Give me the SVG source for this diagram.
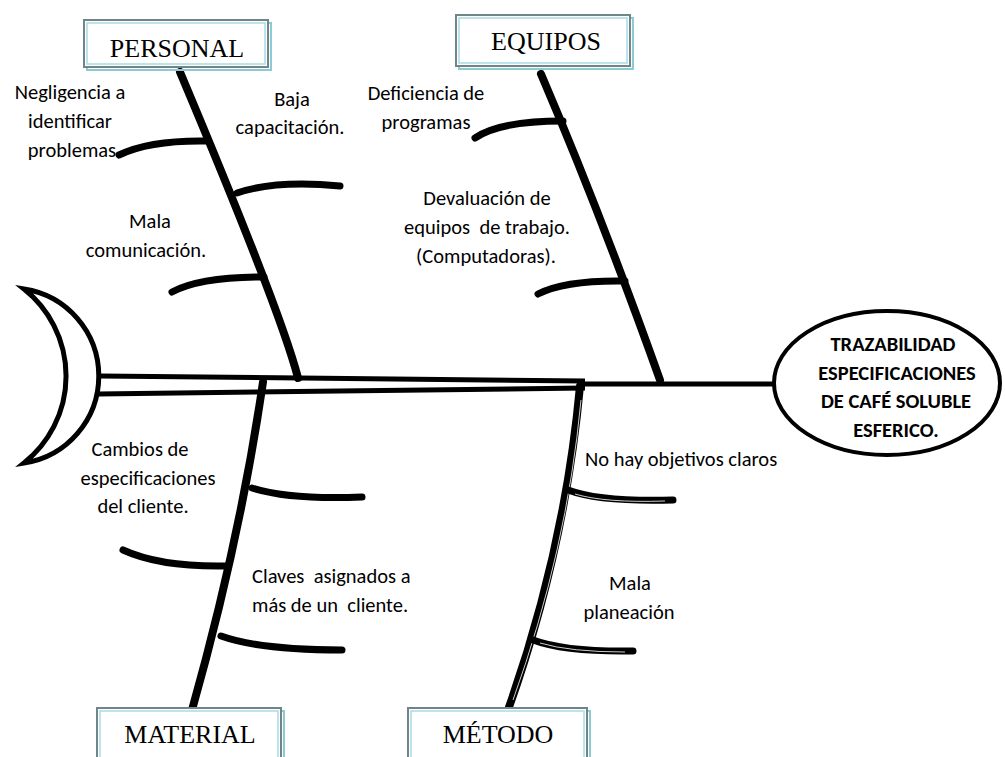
<svg xmlns="http://www.w3.org/2000/svg" width="1005" height="757" viewBox="0 0 1005 757">
<style>
.bg{fill:#fff}
.bone{fill:none;stroke:#000;stroke-width:8;stroke-linecap:round}
.rib{fill:none;stroke:#000;stroke-width:7;stroke-linecap:round}
.spine{fill:none;stroke:#000;stroke-width:5}
.hl{fill:none;stroke:#fff;stroke-width:0.8}
.boxsh{fill:none;stroke:#8ccbd3;stroke-width:2}
.box{fill:#fff;stroke:#6f8587;stroke-width:2}
.boxin{fill:none;stroke:#a6dce3;stroke-width:1.5}
.cat{font-family:"Liberation Serif","Times New Roman",serif;font-size:26px;fill:#000;text-anchor:middle}
.lbl{font-family:Carlito,"Liberation Sans",Arial,sans-serif;font-size:20.5px;fill:#000;text-anchor:middle}
.lbll{font-family:Carlito,"Liberation Sans",Arial,sans-serif;font-size:20.5px;fill:#000}
.eff{font-family:Carlito,"Liberation Sans",Arial,sans-serif;font-size:20.5px;font-weight:bold;fill:#000;text-anchor:middle}
</style>
<rect class="bg" x="0" y="0" width="1005" height="757"/>

<g id="connectors">
  <path class="spine" d="M100,376 L585,381"/>
  <path class="spine" d="M98,394 L585,388"/>
  <path class="spine" stroke-width="6" d="M578,384 L775,384"/>
  <path class="bone" d="M180,72 Q281,312 298,378"/>
  <path class="rib" d="M119,155 Q150,140 207,141"/>
  <path class="rib" d="M237,193 Q275,180 340,186"/>
  <path class="rib" d="M172,292 Q200,277 264,277"/>
  <path class="bone" d="M541,74 Q600,212 660,380"/>
  <path class="rib" d="M475,138 Q500,121 563,121"/>
  <path class="rib" d="M538,294 Q565,280 625,281"/>
  <path class="bone" d="M263,382 Q240,540 192,710"/>
  <path class="rib" d="M252,488 Q290,500 362,497"/>
  <path class="rib" d="M123,550 Q160,567 225,566"/>
  <path class="rib" d="M221,636 Q260,650 342,650"/>
  <path class="bone" d="M580,386 Q565,550 508,710"/>
  <path class="hl" d="M581,400 Q567,550 513,700"/>
  <path class="rib" d="M568,490 Q600,502 673,500"/>
  <path class="hl" d="M575,494 Q605,503 665,501"/>
  <path class="rib" d="M533,640 Q565,652 633,651"/>
  <path class="hl" d="M540,643 Q570,652 625,652"/>
</g>

<g id="head-moon">
  <path d="M24,289 A88,88 0 0 1 24,463 A111,111 0 0 0 24,289 Z" fill="#fff" stroke="#000" stroke-width="5"/>
</g>

<g id="node-personal">
  <rect class="boxsh" x="87" y="23" width="184" height="47"/>
  <rect class="box" x="84" y="20" width="184" height="47"/>
  <rect class="boxin" x="87" y="23" width="178" height="41"/>
  <text class="cat" x="177" y="57">PERSONAL</text>
</g>
<g id="node-equipos">
  <rect class="boxsh" x="459" y="18" width="174" height="51"/>
  <rect class="box" x="456" y="15" width="174" height="51"/>
  <rect class="boxin" x="459" y="18" width="168" height="45"/>
  <text class="cat" x="546" y="50">EQUIPOS</text>
</g>
<g id="node-material">
  <rect class="boxsh" x="100" y="711" width="184" height="60"/>
  <rect class="box" x="97" y="708" width="184" height="60"/>
  <rect class="boxin" x="100" y="711" width="178" height="54"/>
  <text class="cat" x="190" y="743">MATERIAL</text>
</g>
<g id="node-metodo">
  <rect class="boxsh" x="411" y="711" width="179" height="60"/>
  <rect class="box" x="408" y="708" width="179" height="60"/>
  <rect class="boxin" x="411" y="711" width="173" height="54"/>
  <text class="cat" x="498" y="743">MÉTODO</text>
</g>

<g id="node-effect">
  <ellipse cx="887" cy="383" rx="113" ry="72" fill="#fff" stroke="#000" stroke-width="4"/>
  <text class="eff" x="893" y="351">TRAZABILIDAD</text>
  <text class="eff" x="897" y="380">ESPECIFICACIONES</text>
  <text class="eff" x="896" y="408">DE CAFÉ SOLUBLE</text>
  <text class="eff" x="896" y="437">ESFERICO.</text>
</g>

<g id="label-negligencia">
  <text class="lbl" x="70" y="99">Negligencia a</text>
  <text class="lbl" x="70" y="128">identificar</text>
  <text class="lbl" x="72" y="157">problemas</text>
</g>
<g id="label-baja">
  <text class="lbl" x="292" y="106">Baja</text>
  <text class="lbl" x="290" y="134">capacitación.</text>
</g>
<g id="label-mala-com">
  <text class="lbl" x="150" y="228">Mala</text>
  <text class="lbl" x="146" y="257">comunicación.</text>
</g>
<g id="label-deficiencia">
  <text class="lbl" x="426" y="100">Deficiencia de</text>
  <text class="lbl" x="426" y="129">programas</text>
</g>
<g id="label-devaluacion">
  <text class="lbl" x="487" y="205">Devaluación de</text>
  <text class="lbl" x="487" y="234" xml:space="preserve">equipos  de trabajo.</text>
  <text class="lbl" x="486" y="263">(Computadoras).</text>
</g>
<g id="label-cambios">
  <text class="lbl" x="140" y="456">Cambios de</text>
  <text class="lbl" x="148" y="485">especificaciones</text>
  <text class="lbl" x="143" y="513">del cliente.</text>
</g>
<g id="label-claves">
  <text class="lbll" x="252" y="583" xml:space="preserve">Claves  asignados a</text>
  <text class="lbll" x="252" y="612" xml:space="preserve">más de un  cliente.</text>
</g>
<g id="label-objetivos">
  <text class="lbll" x="585" y="466">No hay objetivos claros</text>
</g>
<g id="label-planeacion">
  <text class="lbl" x="630" y="590">Mala</text>
  <text class="lbl" x="629" y="619">planeación</text>
</g>
</svg>
